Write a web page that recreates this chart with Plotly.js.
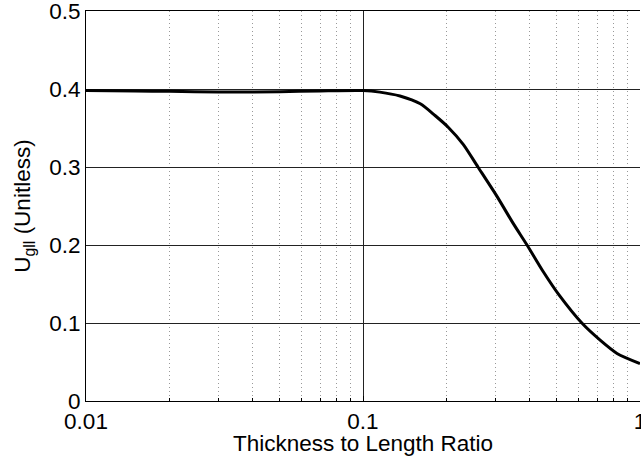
<!DOCTYPE html>
<html>
<head>
<meta charset="utf-8">
<script src="https://cdn.plot.ly/plotly-3.0.1.min.js"></script>
<style>html,body{margin:0;padding:0;background:#fff;}#chart{width:641px;height:456px;}</style>
</head>
<body>
<div id="chart"></div>
<script>
// Data
const ratio = [0.01, 0.015, 0.02, 0.03, 0.05, 0.07, 0.1, 0.115, 0.136, 0.161, 0.182, 0.203, 0.230, 0.260, 0.305, 0.348, 0.391, 0.447, 0.510, 0.618, 0.718, 0.826, 1.0];
const ugll  = [0.398, 0.3975, 0.397, 0.396, 0.3965, 0.3975, 0.398, 0.396, 0.391, 0.381, 0.366, 0.351, 0.329, 0.300, 0.262, 0.228, 0.200, 0.166, 0.136, 0.0996, 0.078, 0.061, 0.048];

const xTickVals = [0.01, 0.1, 1];
const xTickText = ['0.01', '0.1', '1'];
const xMinorVals = [0.02,0.03,0.04,0.05,0.06,0.07,0.08,0.09,0.2,0.3,0.4,0.5,0.6,0.7,0.8,0.9];
const yTickVals = [0, 0.1, 0.2, 0.3, 0.4, 0.5];
const yTickText = ['0', '0.1', '0.2', '0.3', '0.4', '0.5'];

const font = {family: '"Liberation Sans", Arial, Helvetica, sans-serif', size: 22.5, color: '#000'};

const trace = {
  x: ratio, y: ugll, type: 'scatter', mode: 'lines',
  line: {color: '#000', width: 3, shape: 'spline', smoothing: 0.7},
  hoverinfo: 'skip'
};

const layout = {
  width: 641, height: 456,
  margin: {l: 86, r: 1, t: 11, b: 55},
  paper_bgcolor: '#fff', plot_bgcolor: '#fff',
  font: font,
  showlegend: false,
  xaxis: {
    type: 'log', range: [-2, 0],
    tickmode: 'array', tickvals: xTickVals, ticktext: xTickText,
    ticks: 'inside', ticklen: 5, tickcolor: '#000',
    ticklabeloverflow: 'allow',
    showgrid: true, gridcolor: '#222', gridwidth: 1,
    showline: true, linecolor: '#000', linewidth: 1, mirror: true,
    zeroline: false,
    tickfont: font,
    minor: {tickmode: 'array', tickvals: xMinorVals, ticks: 'inside', ticklen: 3, tickcolor: '#000',
            showgrid: true, gridcolor: '#999', griddash: '1px,3px', gridwidth: 1},
    title: {text: 'Thickness to Length Ratio', font: font, standoff: 0}
  },
  yaxis: {
    range: [0, 0.5],
    tickmode: 'array', tickvals: yTickVals, ticktext: yTickText,
    ticks: '', showgrid: true, gridcolor: '#222', gridwidth: 1,
    ticklabeloverflow: 'allow',
    showline: true, linecolor: '#000', linewidth: 1,
    zeroline: false,
    tickfont: font,
    title: {text: 'U<sub>gll</sub> (Unitless)', font: font, standoff: 12}
  }
};

Plotly.newPlot('chart', [trace], layout, {staticPlot: true, displayModeBar: false});
</script>
</body>
</html>
